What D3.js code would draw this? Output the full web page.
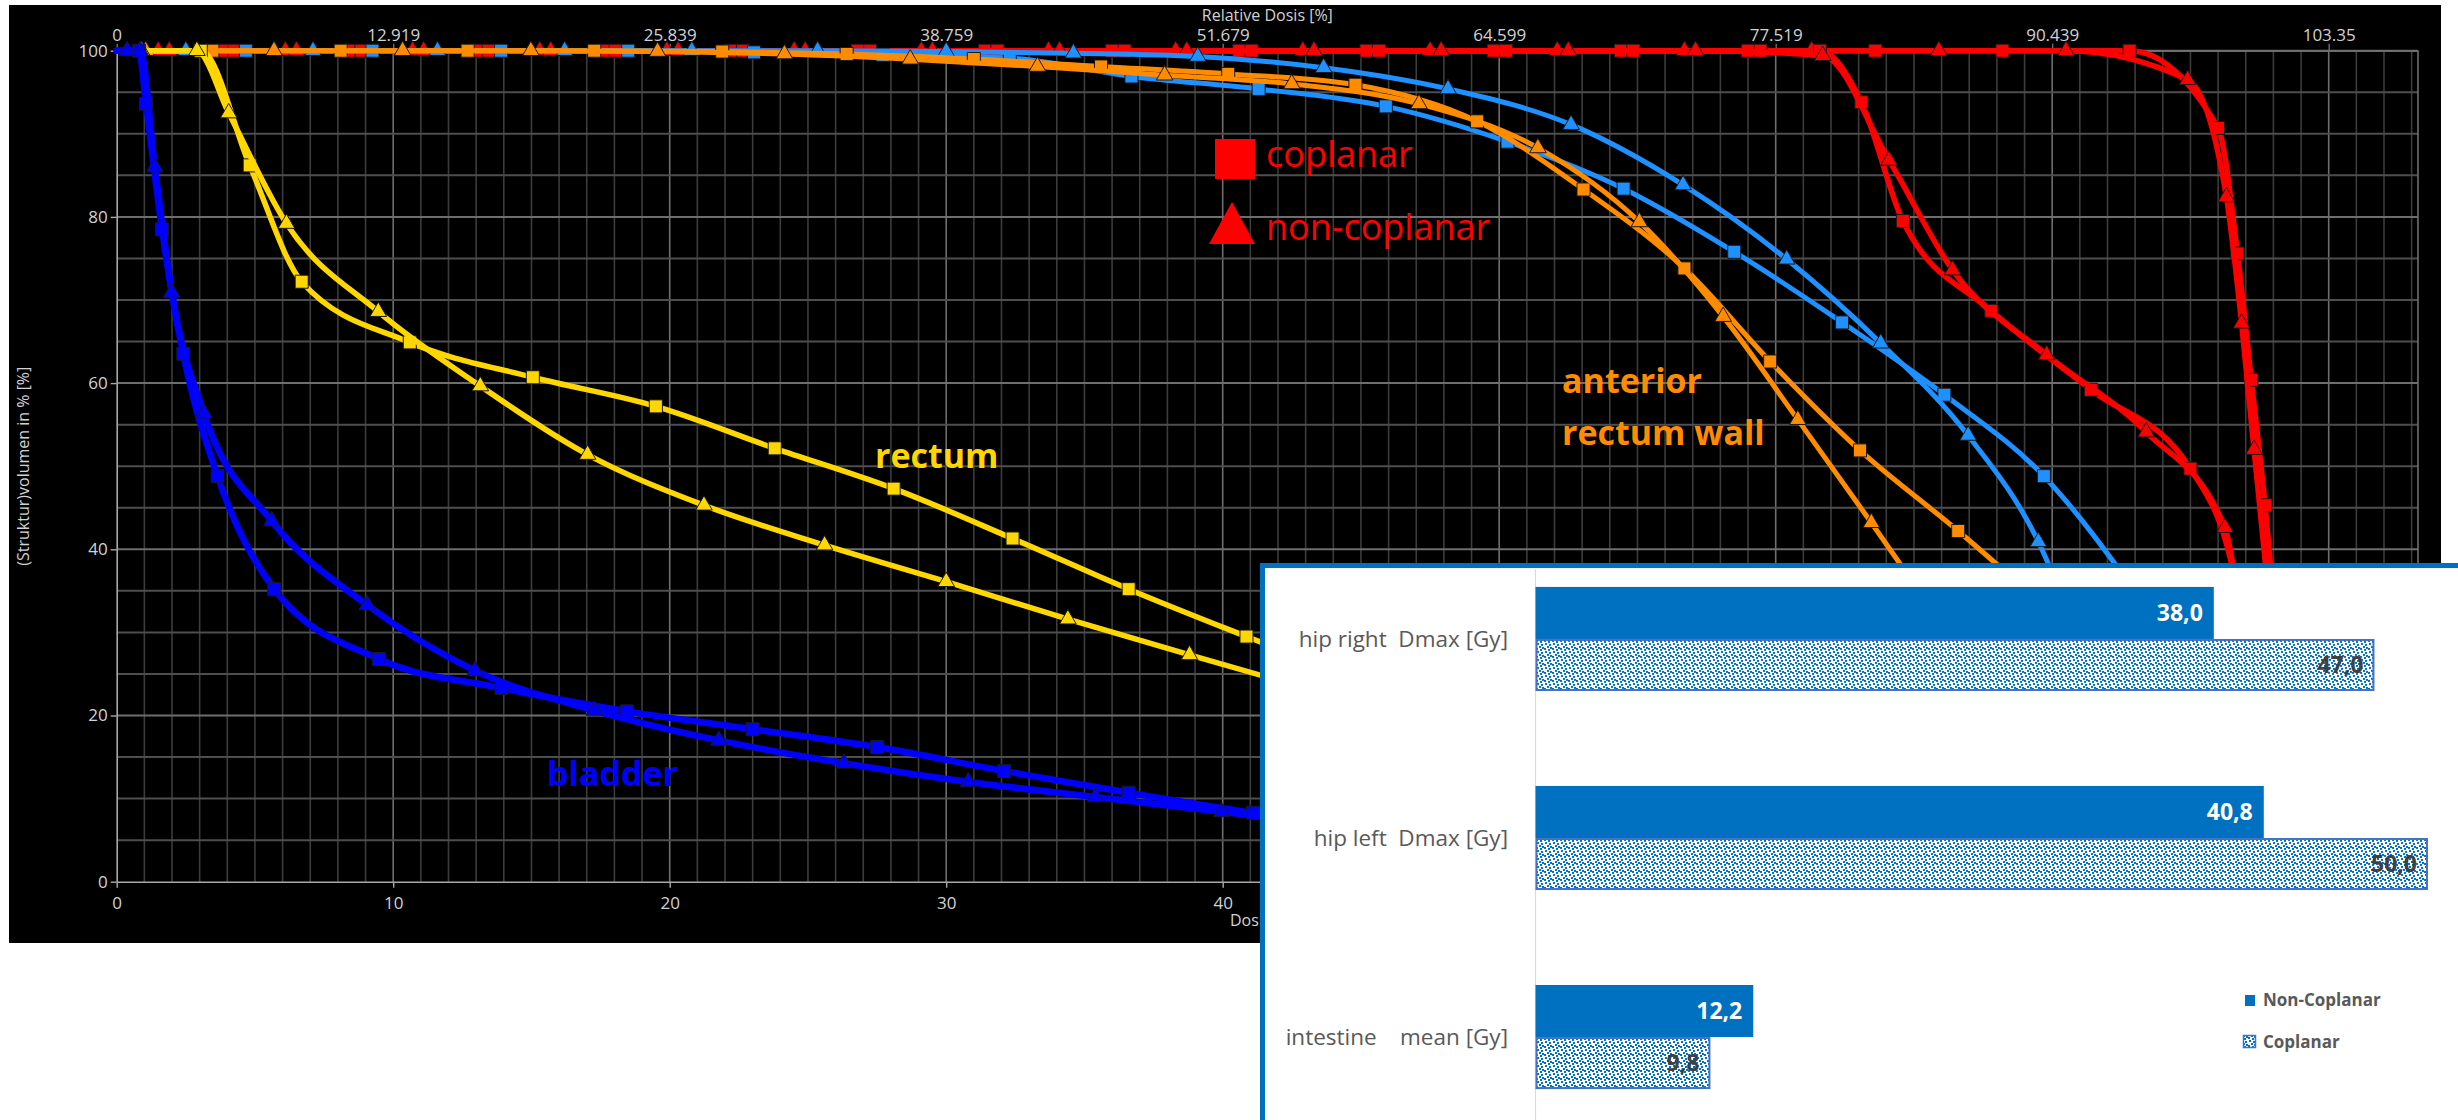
<!DOCTYPE html>
<html>
<head>
<meta charset="utf-8">
<script src="https://cdn.jsdelivr.net/npm/d3@7"></script>
<style>
  html, body { margin: 0; padding: 0; background: #ffffff; }
  svg { display: block; }
  text { font-family: "Open Sans", "Noto Sans", "DejaVu Sans", sans-serif; }
</style>
</head>
<body>
<svg id="chart" width="2458" height="1120"></svg>
<script>
// ---------- DVH data: [dose in Gy, volume in %] ----------
const doseTicks = [0, 10, 20, 30, 40, 50, 60, 70, 80];
const relativeDoseTicks = ["0", "12.919", "25.839", "38.759", "51.679", "64.599", "77.519", "90.439", "103.35"];
const volumeTicks = [0, 20, 40, 60, 80, 100];

// high-dose target (red, falls near 78 Gy)
const targetHighCoplanar = [[0,100],[3.8,100],[8.4,100],[13.0,100],[17.6,100],[22.2,100],[26.8,100],[31.4,100],[36.0,100],[40.6,100],[45.2,100],[49.8,100],[54.4,100],[59.0,100],[63.6,100],[68.2,100],[72.8,100],[76.0,90.7],[76.7,75.6],[77.2,60.4],[77.7,45.3],[78.1,30.5],[78.6,12]];
const targetHighNonCoplanar = [[0,100],[1.5,100],[6.1,100],[10.7,100],[15.3,100],[19.9,100],[24.5,100],[29.1,100],[33.7,100],[38.3,100],[42.9,100],[47.5,100],[52.1,100],[56.7,100],[61.3,100],[65.9,100],[70.5,100],[74.9,96.5],[76.3,82.4],[76.85,67.2],[77.3,52.0],[77.75,37],[78.3,18]];
// lower-dose target (red, falls from 62 Gy)
const targetLowCoplanar = [[0,100],[4.25,100],[8.85,100],[13.45,100],[18.05,100],[22.65,100],[27.25,100],[31.85,100],[36.45,100],[41.05,100],[45.65,100],[50.25,100],[54.85,100],[59.45,100],[61.6,100],[63.1,93.8],[64.6,79.5],[67.8,68.7],[71.4,59.2],[75.0,49.7],[76.7,35],[77.6,12]];
const targetLowNonCoplanar = [[0,100],[1.9,100],[6.5,100],[11.1,100],[15.7,100],[20.3,100],[24.9,100],[29.5,100],[34.1,100],[38.7,100],[43.3,100],[47.9,100],[52.5,100],[57.1,100],[61.7,99.4],[64.1,86.8],[66.4,73.6],[69.8,63.4],[73.4,54.1],[76.25,42.6],[76.9,30],[77.7,10]];
// light blue structure
const lightBlueCoplanar = [[0,100],[4.67,100],[9.25,100],[13.9,100],[18.5,100],[23.05,99.8],[27.7,99.5],[32.3,99.1],[36.7,96.9],[41.3,95.4],[45.9,93.3],[50.3,89.05],[54.5,83.4],[58.5,75.8],[62.4,67.3],[66.1,58.6],[69.7,48.8],[73.2,34]];
const lightBlueNonCoplanar = [[0,100],[2.5,100],[7.1,100],[11.6,100],[16.2,100],[20.8,100],[25.35,100],[30.0,99.9],[34.6,99.7],[39.1,99.3],[43.65,97.95],[48.15,95.4],[52.6,91.1],[56.65,83.85],[60.4,74.9],[63.8,64.8],[66.96,53.7],[69.5,40.9],[71.0,29]];
// anterior rectum wall (orange)
const rectumWallCoplanar = [[0,100],[3.46,100],[8.1,100],[12.69,100],[17.27,100],[21.9,99.9],[26.4,99.6],[31.0,99.0],[35.6,98.1],[40.2,97.2],[44.8,95.9],[49.2,91.5],[53.05,83.3],[56.7,73.8],[59.8,62.6],[63.05,51.9],[66.6,42.2],[69.6,33.5]];
const rectumWallNonCoplanar = [[0,100],[1.05,100],[5.69,100],[10.34,100],[14.98,100],[19.56,99.9],[24.15,99.6],[28.7,98.97],[33.3,98.1],[37.9,97.05],[42.5,96.0],[47.1,93.6],[51.4,88.3],[55.07,79.4],[58.1,68.0],[60.8,55.6],[63.46,43.2],[65.6,33]];
// rectum (yellow)
const rectumCoplanar = [[0,100],[3.04,100],[4.81,86.2],[6.69,72.2],[10.6,64.9],[15.05,60.7],[19.5,57.2],[23.8,52.15],[28.1,47.3],[32.4,41.3],[36.6,35.2],[40.86,29.5],[45.1,24]];
const rectumNonCoplanar = [[0,100],[0.9,100],[2.9,100],[4.05,92.5],[6.14,79.2],[9.46,68.6],[13.15,59.65],[17.03,51.4],[21.24,45.3],[25.6,40.5],[30.0,36.1],[34.4,31.6],[38.8,27.3],[43.2,23.1]];
// bladder (blue)
const bladderCoplanar = [[0,100],[0.8,100],[1.06,93.6],[1.64,78.5],[2.41,63.5],[3.65,48.8],[5.7,35.2],[9.48,26.8],[13.92,23.3],[18.45,20.5],[23.0,18.35],[27.5,16.2],[32.1,13.3],[36.6,10.7],[41.1,8.3],[45.6,6.4]];
const bladderNonCoplanar = [[0,100],[0.38,100],[0.85,100],[1.38,86.0],[1.99,70.9],[3.15,56.4],[5.61,43.4],[9.06,33.3],[12.96,25.4],[17.28,20.6],[21.78,17.0],[26.3,14.25],[30.8,12.0],[35.4,10.2],[39.96,8.4],[44.5,6.7]];

// ---------- dose comparison bars ----------
const organCategories = ["hip right  Dmax [Gy]", "hip left  Dmax [Gy]", "intestine    mean [Gy]"];
const barSeries = ["Non-Coplanar", "Coplanar"];
const nonCoplanarValues = [38.0, 40.8, 12.2];
const coplanarValues = [47.0, 50.0, 9.8];

// ---------- drawing ----------
const svg = d3.select("#chart");
const defs = svg.append("defs");

// confetti fill for the coplanar bars
const confetti = defs.append("pattern")
  .attr("id", "confetti").attr("patternUnits", "userSpaceOnUse")
  .attr("width", 8).attr("height", 8);
confetti.append("rect").attr("width", 8).attr("height", 8).attr("fill", "#ffffff");
[[1,0],[5,1],[3,3],[6,4],[0,5],[4,6]].forEach(([px, py]) => {
  confetti.append("rect").attr("x", px).attr("y", py).attr("width", 2).attr("height", 2).attr("fill", "#0070c0");
});

// dark DVH panel
svg.append("rect").attr("x", 9).attr("y", 5).attr("width", 2432).attr("height", 938).attr("fill", "#000000");

const plot = { left: 116.7, right: 2418, top: 50.7, bottom: 881.7 };
const maxDose = 83.23;
const x = d3.scaleLinear().domain([0, maxDose]).range([plot.left, plot.right]);
const y = d3.scaleLinear().domain([0, 100]).range([plot.bottom, plot.top]);

// grid
const grid = svg.append("g");
grid.selectAll("line.gv").data(d3.range(1, Math.floor(maxDose) + 1)).join("line")
  .attr("class", "gv")
  .attr("x1", d => x(d)).attr("x2", d => x(d))
  .attr("y1", plot.top).attr("y2", plot.bottom)
  .attr("stroke", d => d % 10 === 0 ? "#6e6e6e" : "#3c3c3c")
  .attr("stroke-width", 1.6);
grid.selectAll("line.gh").data(d3.range(5, 101, 5)).join("line")
  .attr("class", "gh")
  .attr("x1", plot.left).attr("x2", plot.right)
  .attr("y1", d => y(d)).attr("y2", d => y(d))
  .attr("stroke", d => d % 20 === 0 ? "#6e6e6e" : "#4e4e4e")
  .attr("stroke-width", 2);
grid.append("line").attr("x1", plot.right).attr("x2", plot.right)
  .attr("y1", plot.top).attr("y2", plot.bottom).attr("stroke", "#6e6e6e").attr("stroke-width", 1.6);

// axes
const axisColor = "#a8a8a8";
const labelColor = "#d2d2d2";
function styleAxis(g) {
  g.selectAll("path.domain").attr("stroke", axisColor).attr("stroke-width", 1.6);
  g.selectAll(".tick line").attr("stroke", axisColor).attr("stroke-width", 1.4);
  g.selectAll(".tick text").attr("fill", labelColor).style("font-size", "17px")
    .style("font-family", "'Open Sans', 'Noto Sans', sans-serif");
}
svg.append("g").attr("transform", `translate(${plot.left},0)`)
  .call(d3.axisLeft(y).tickValues(volumeTicks).tickSize(6).tickSizeOuter(0).tickPadding(3))
  .call(styleAxis);
svg.append("g").attr("transform", `translate(0,${plot.bottom})`)
  .call(d3.axisBottom(x).tickValues(doseTicks).tickSize(6).tickSizeOuter(0).tickPadding(9))
  .call(styleAxis);
const topAxis = svg.append("g").attr("transform", `translate(0,${plot.top})`)
  .call(d3.axisTop(x).tickValues(doseTicks).tickFormat((d, i) => relativeDoseTicks[i])
    .tickSize(7).tickSizeOuter(0).tickPadding(3))
  .call(styleAxis);
topAxis.select("path.domain").attr("stroke", "#6e6e6e");
topAxis.selectAll(".tick line").attr("stroke", "#6e6e6e");

svg.append("text").attr("x", (plot.left + plot.right) / 2).attr("y", 21)
  .attr("text-anchor", "middle").attr("fill", labelColor).style("font-size", "16px")
  .text("Relative Dosis [%]");
svg.append("text").attr("transform", `translate(23,${(plot.top + plot.bottom) / 2}) rotate(-90)`)
  .attr("text-anchor", "middle").attr("dy", "0.35em").attr("fill", labelColor).style("font-size", "16px")
  .text("(Struktur)volumen in % [%]");
svg.append("text").attr("x", (plot.left + plot.right) / 2).attr("y", 926)
  .attr("text-anchor", "middle").attr("fill", labelColor).style("font-size", "16px")
  .text("Dosis [Gy]");

// curves, back to front
const dvhSeries = [
  { data: targetHighCoplanar,    color: "#ff0000", marker: "square",   width: 5.5 },
  { data: targetHighNonCoplanar, color: "#ff0000", marker: "triangle", width: 5.5 },
  { data: targetLowCoplanar,     color: "#ff0000", marker: "square",   width: 5.5 },
  { data: targetLowNonCoplanar,  color: "#ff0000", marker: "triangle", width: 5.5 },
  { data: lightBlueCoplanar,     color: "#1e90ff", marker: "square",   width: 5 },
  { data: lightBlueNonCoplanar,  color: "#1e90ff", marker: "triangle", width: 5 },
  { data: rectumWallCoplanar,    color: "#ff8c00", marker: "square",   width: 5 },
  { data: rectumWallNonCoplanar, color: "#ff8c00", marker: "triangle", width: 5 },
  { data: rectumCoplanar,        color: "#ffd700", marker: "square",   width: 5.5 },
  { data: rectumNonCoplanar,     color: "#ffd700", marker: "triangle", width: 5.5 },
  { data: bladderCoplanar,       color: "#0000ff", marker: "square",   width: 6.5 },
  { data: bladderNonCoplanar,    color: "#0000ff", marker: "triangle", width: 6.5 }
];
const line = d3.line().x(d => x(d[0])).y(d => y(d[1])).curve(d3.curveMonotoneX);
const symbols = {
  square: d3.symbol(d3.symbolSquare, 170)(),
  triangle: d3.symbol(d3.symbolTriangle, 120)()
};
const curves = svg.append("g");
dvhSeries.forEach(s => {
  const g = curves.append("g");
  g.append("path").datum(s.data).attr("d", line)
    .attr("fill", "none").attr("stroke", s.color).attr("stroke-width", s.width)
    .attr("stroke-linejoin", "round").attr("stroke-linecap", "round");
  g.selectAll("path.mk").data(s.data.filter(d => d[0] > 0)).join("path")
    .attr("class", "mk")
    .attr("transform", d => `translate(${x(d[0])},${y(d[1])})`)
    .attr("d", symbols[s.marker])
    .attr("fill", s.color).attr("stroke", "#1a1a1a").attr("stroke-width", 1);
});

// annotations
svg.append("rect").attr("x", 1215).attr("y", 139).attr("width", 40).attr("height", 40).attr("fill", "#ff0000");
svg.append("path").attr("d", "M1232,202L1255,244L1209,244Z").attr("fill", "#ff0000");
svg.append("text").attr("x", 1266).attr("y", 167).attr("fill", "#ff0000").style("font-size", "36px").text("coplanar");
svg.append("text").attr("x", 1266).attr("y", 240).attr("fill", "#ff0000").style("font-size", "36px").text("non-coplanar");
const labels = [
  { text: "rectum", x: 875, y: 468, color: "#ffd700" },
  { text: "anterior", x: 1562, y: 393, color: "#ff8c00" },
  { text: "rectum wall", x: 1562, y: 445, color: "#ff8c00" },
  { text: "bladder", x: 547, y: 786, color: "#0000ff" }
];
svg.selectAll("text.organ").data(labels).join("text")
  .attr("class", "organ").attr("x", d => d.x).attr("y", d => d.y)
  .attr("fill", d => d.color).style("font-size", "34px").style("font-weight", "700")
  .text(d => d.text);

// ---------- bar chart panel ----------
svg.append("rect").attr("x", 1262.5).attr("y", 565.5).attr("width", 1400).attr("height", 800)
  .attr("fill", "#ffffff").attr("stroke", "#0070c0").attr("stroke-width", 5);
svg.append("line").attr("x1", 1535.5).attr("x2", 1535.5).attr("y1", 569).attr("y2", 1120)
  .attr("stroke", "#d9d9d9").attr("stroke-width", 1.2);

const xb = d3.scaleLinear().domain([0, 50]).range([1535.5, 2428]);
const yb = d3.scaleBand().domain(organCategories).range([570, 1106]).paddingInner(0.477).paddingOuter(0.085);
const yBar = d3.scaleBand().domain(barSeries).range([0, yb.bandwidth()]);
const commaFormat = d3.formatLocale({ decimal: ",", thousands: ".", grouping: [3], currency: ["", ""] }).format(".1f");

const rows = organCategories.map((c, i) => ({ cat: c, values: [nonCoplanarValues[i], coplanarValues[i]] }));
const rowG = svg.append("g").selectAll("g").data(rows).join("g")
  .attr("transform", d => `translate(0,${yb(d.cat)})`);

rowG.append("text").attr("x", 1508).attr("y", yb.bandwidth() / 2).attr("dy", "0.35em")
  .attr("text-anchor", "end").attr("fill", "#595959").style("font-size", "22.5px")
  .style("white-space", "pre").text(d => d.cat);

barSeries.forEach((s, k) => {
  const coplanar = s === "Coplanar";
  rowG.append("rect")
    .attr("x", xb(0) + (coplanar ? 1 : 0))
    .attr("y", yBar(s) + (coplanar ? 1 : 0))
    .attr("width", d => xb(d.values[k]) - xb(0) - (coplanar ? 2 : 0))
    .attr("height", yBar.bandwidth() - (coplanar ? 2 : 0))
    .attr("fill", coplanar ? "url(#confetti)" : "#0070c0")
    .attr("stroke", coplanar ? "#4472c4" : "none")
    .attr("stroke-width", coplanar ? 2 : 0);
  rowG.append("text")
    .attr("x", d => xb(d.values[k]) - 11)
    .attr("y", yBar(s) + yBar.bandwidth() / 2).attr("dy", "0.36em")
    .attr("text-anchor", "end")
    .attr("fill", coplanar ? "#404040" : "#ffffff")
    .style("font-size", "23px").style("font-weight", "700")
    .text(d => commaFormat(d.values[k]));
});

// legend
const legend = svg.append("g");
legend.append("rect").attr("x", 2245).attr("y", 995).attr("width", 10).attr("height", 11).attr("fill", "#0070c0");
legend.append("rect").attr("x", 2243.5).attr("y", 1035.5).attr("width", 12).attr("height", 12)
  .attr("fill", "url(#confetti)").attr("stroke", "#4472c4").attr("stroke-width", 1.5);
legend.selectAll("text").data(barSeries).join("text")
  .attr("x", 2263).attr("y", (d, i) => 1000 + i * 42).attr("dy", "0.35em")
  .attr("fill", "#595959").style("font-size", "17px").style("font-weight", "700")
  .text(d => d);
</script>
</body>
</html>
